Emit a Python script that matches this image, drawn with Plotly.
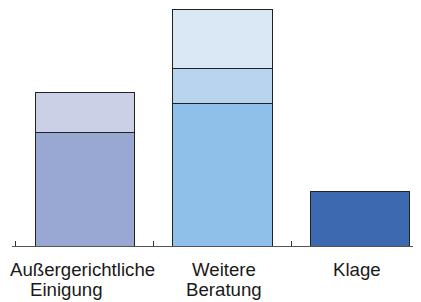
import plotly.graph_objects as go

categories = ["Außergerichtliche Einigung", "Weitere Beratung", "Klage"]
label_lines = [["Außergerichtliche", "Einigung"], ["Weitere", "Beratung"], ["Klage"]]
seg1 = [48, 60, 23]
seg2 = [17, 15, 0]
seg3 = [0, 25, 0]
colors1 = ["#99A8D2", "#8EC0EA", "#3D69B0"]
colors2 = ["#CBD0E6", "#B8D4EE", "#FFFFFF"]
colors3 = ["#FFFFFF", "#DAE7F4", "#FFFFFF"]

fig = go.Figure()
for vals, cols in [(seg1, colors1), (seg2, colors2), (seg3, colors3)]:
    fig.add_trace(go.Bar(
        x=categories, y=vals,
        marker=dict(color=cols, line=dict(color="#222222", width=1)),
        showlegend=False, hoverinfo="skip",
    ))

# category labels, one annotation per line for tight line spacing
line_xshift = [[-2.5, -18], [1.5, 1], [-3]]
for cat, lines, shifts in zip(categories, label_lines, line_xshift):
    for i, (txt, xs) in enumerate(zip(lines, shifts)):
        fig.add_annotation(
            x=cat, xref="x", y=0, yref="paper",
            text=txt, showarrow=False,
            xanchor="center", yanchor="middle",
            xshift=xs, yshift=-23 - 20 * i,
            font=dict(family="Liberation Sans, Arial, sans-serif", size=18.67, color="#1a1a1a"),
        )

fig.update_layout(
    barmode="stack",
    bargap=0.28,
    width=413, height=294,
    margin=dict(l=4, r=0, t=0, b=56),
    plot_bgcolor="white", paper_bgcolor="white",
    font=dict(family="Liberation Sans, Arial, sans-serif", size=14, color="#1a1a1a"),
    xaxis=dict(
        range=[-0.5276, 2.44],
        showline=True, linecolor="#555555", linewidth=1,
        ticks="inside", tickson="boundaries", ticklen=5, tickcolor="#333333",
        showgrid=False, zeroline=False, showticklabels=False,
    ),
    yaxis=dict(
        range=[0, 100.55], visible=False, showgrid=False, zeroline=False,
    ),
)
fig.write_html("out.html")
